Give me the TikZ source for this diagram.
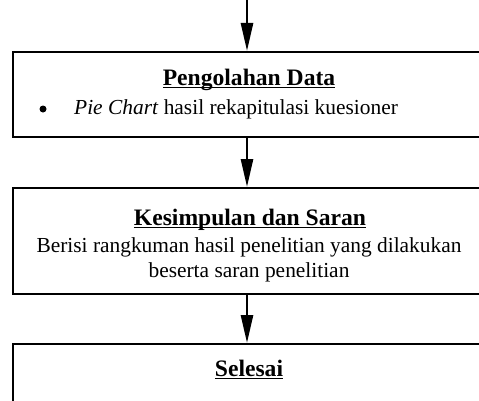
\documentclass[tikz,border=0pt]{standalone}
\usepackage{fontspec}
\setmainfont{Liberation Serif}
\usetikzlibrary{arrows.meta}
\newlength\myulw
\newcommand\myul[1]{\settowidth\myulw{#1}\rlap{\rule[-3.2pt]{\myulw}{1.7pt}}#1}
\begin{document}
\begin{tikzpicture}[x=1pt,y=1pt,
  box/.style={draw,line width=2pt,minimum width=468pt,inner sep=0pt,anchor=north},
  flow/.style={line width=2.6pt,-{Triangle[length=28pt,width=12pt]}},
  txt/.style={anchor=base,inner sep=0pt,font=\fontsize{21.4}{25}\selectfont},
  ttl/.style={anchor=base,inner sep=0pt,font=\fontsize{23.6}{28}\selectfont\bfseries},
  dot/.style={circle,fill,inner sep=0pt,minimum size=7pt}]
\clip (0,0) rectangle (479,400);
\coordinate (start) at (247,400);
\node[box,minimum height=85pt] (b1) at (247,349) {};
\node[box,minimum height=106pt] (b2) at (247,213) {};
\node[box,minimum height=90pt] (b3) at (247,57) {};
\node[ttl] (t1) at (249,315) {\myul{Pengolahan Data}};
\node[dot] (bul) at (43,291) {};
\node[txt,anchor=base west] (l1) at (74,286) {\textit{Pie Chart} hasil rekapitulasi kuesioner};
\node[ttl] (t2) at (250,175) {\myul{Kesimpulan dan Saran}};
\node[txt] (l2) at (249,148) {Berisi rangkuman hasil penelitian yang dilakukan};
\node[txt] (l3) at (249,123) {beserta saran penelitian};
\node[ttl] (t3) at (249,24) {\myul{Selesai}};
\draw[flow] (start) -- (b1.north);
\draw[flow] (b1.south) -- (b2.north);
\draw[flow] (b2.south) -- (b3.north);
\end{tikzpicture}
\end{document}
